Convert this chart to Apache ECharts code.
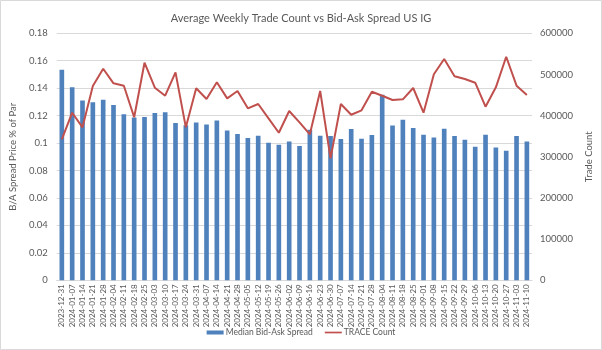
<!DOCTYPE html>
<html>
<head>
<meta charset="utf-8">
<script src="https://cdn.jsdelivr.net/npm/echarts@6/dist/echarts.min.js"></script>
<style>html,body{margin:0;padding:0;background:#fff}#c{width:602px;height:350px}</style>
</head>
<body>
<div id="c"></div>
<script>
const categories = ["2023-12-31","2024-01-07","2024-01-14","2024-01-21","2024-01-28","2024-02-04","2024-02-11","2024-02-18","2024-02-25","2024-03-03","2024-03-10","2024-03-17","2024-03-24","2024-03-31","2024-04-07","2024-04-14","2024-04-21","2024-04-28","2024-05-05","2024-05-12","2024-05-19","2024-05-26","2024-06-02","2024-06-09","2024-06-16","2024-06-23","2024-06-30","2024-07-07","2024-07-14","2024-07-21","2024-07-28","2024-08-04","2024-08-11","2024-08-18","2024-08-25","2024-09-01","2024-09-08","2024-09-15","2024-09-22","2024-09-29","2024-10-06","2024-10-13","2024-10-20","2024-10-27","2024-11-03","2024-11-10"];
const medianSpread = [0.1535,0.1406,0.1310,0.1297,0.1316,0.1277,0.1210,0.1187,0.1190,0.1220,0.1224,0.1146,0.1130,0.1150,0.1136,0.1165,0.1092,0.1066,0.1037,0.1053,0.1002,0.0988,0.1012,0.0978,0.1097,0.1053,0.1051,0.1029,0.1102,0.1031,0.1058,0.1353,0.1129,0.1170,0.1110,0.1061,0.1041,0.1104,0.1051,0.1024,0.0973,0.1061,0.0968,0.0944,0.1051,0.1012];
const traceCount = [342500,407100,371600,472000,514000,478500,472700,396000,528600,467800,448400,505200,371600,466400,440400,481000,442000,459800,417800,428200,393500,358500,411200,383800,354600,459800,296300,428200,402200,412900,458100,448400,437900,439600,467100,407100,500400,537500,495500,488900,480000,421700,468800,543100,472700,450100];
const leftTicks = {min:0, max:0.18, interval:0.02};
const rightTicks = {min:0, max:600000, interval:100000};

const chart = echarts.init(document.getElementById('c'), null, {renderer:'canvas'});
const font = 'Lato';
const gray = '#595959';
chart.setOption({
  backgroundColor:'#fff',
  animation:false,
  textStyle:{fontFamily:font},
  title:{text:'Average Weekly Trade Count vs Bid-Ask Spread US IG', left:'center', top:8,
    textStyle:{fontFamily:font, fontSize:11, fontWeight:'normal', color:gray}},
  graphic:[{type:'rect', shape:{x:0.5,y:0.5,width:601,height:349}, style:{fill:null, stroke:'#d9d9d9', lineWidth:1}, silent:true}],
  legend:{bottom:8, left:'center', itemGap:12, textStyle:{fontFamily:font, fontSize:8.5, color:gray, padding:[0,0,0,-3]},
    data:[{name:'Median Bid-Ask Spread', icon:'rect', itemStyle:{color:'#4F81BD'}},
          {name:'TRACE Count', icon:'path://M0,0 L20,0 L20,2 L0,2 Z'}],
    itemWidth:17, itemHeight:4},
  grid:{left:46.7, right:56.5, top:33.3, bottom:69.7, containLabel:false},
  xAxis:{type:'category', data:categories, axisTick:{show:false},
    axisLine:{lineStyle:{color:'#d9d9d9'}},
    axisLabel:{rotate:90, interval:0, fontSize:8, color:gray, fontFamily:font, margin:4}},
  yAxis:[
    {type:'value', min:leftTicks.min, max:leftTicks.max, interval:leftTicks.interval,
      name:'B/A Spread Price % of Par', nameLocation:'middle', nameGap:30, nameRotate:90,
      nameTextStyle:{fontSize:9.5, color:gray, fontFamily:font},
      axisLabel:{fontSize:9.5, color:gray, fontFamily:font, margin:9, formatter:v=>String(parseFloat(v.toFixed(2)))},
      splitLine:{lineStyle:{color:'#d9d9d9'}}, axisLine:{show:false}, axisTick:{show:false}},
    {type:'value', min:rightTicks.min, max:rightTicks.max, interval:rightTicks.interval,
      name:'Trade Count', nameLocation:'middle', nameGap:42, nameRotate:90,
      nameTextStyle:{fontSize:9.5, color:gray, fontFamily:font},
      axisLabel:{fontSize:9.5, color:gray, fontFamily:font, margin:8, formatter:v=>String(v)},
      splitLine:{show:false}, axisLine:{show:false}, axisTick:{show:false}}
  ],
  series:[
    {name:'Median Bid-Ask Spread', type:'bar', data:medianSpread, yAxisIndex:0, barWidth:'45%',
      itemStyle:{color:'#4F81BD'}},
    {name:'TRACE Count', type:'line', data:traceCount, yAxisIndex:1, symbol:'none',
      lineStyle:{color:'#C0504D', width:2}, itemStyle:{color:'#C0504D'}}
  ]
});
</script>
</body>
</html>
